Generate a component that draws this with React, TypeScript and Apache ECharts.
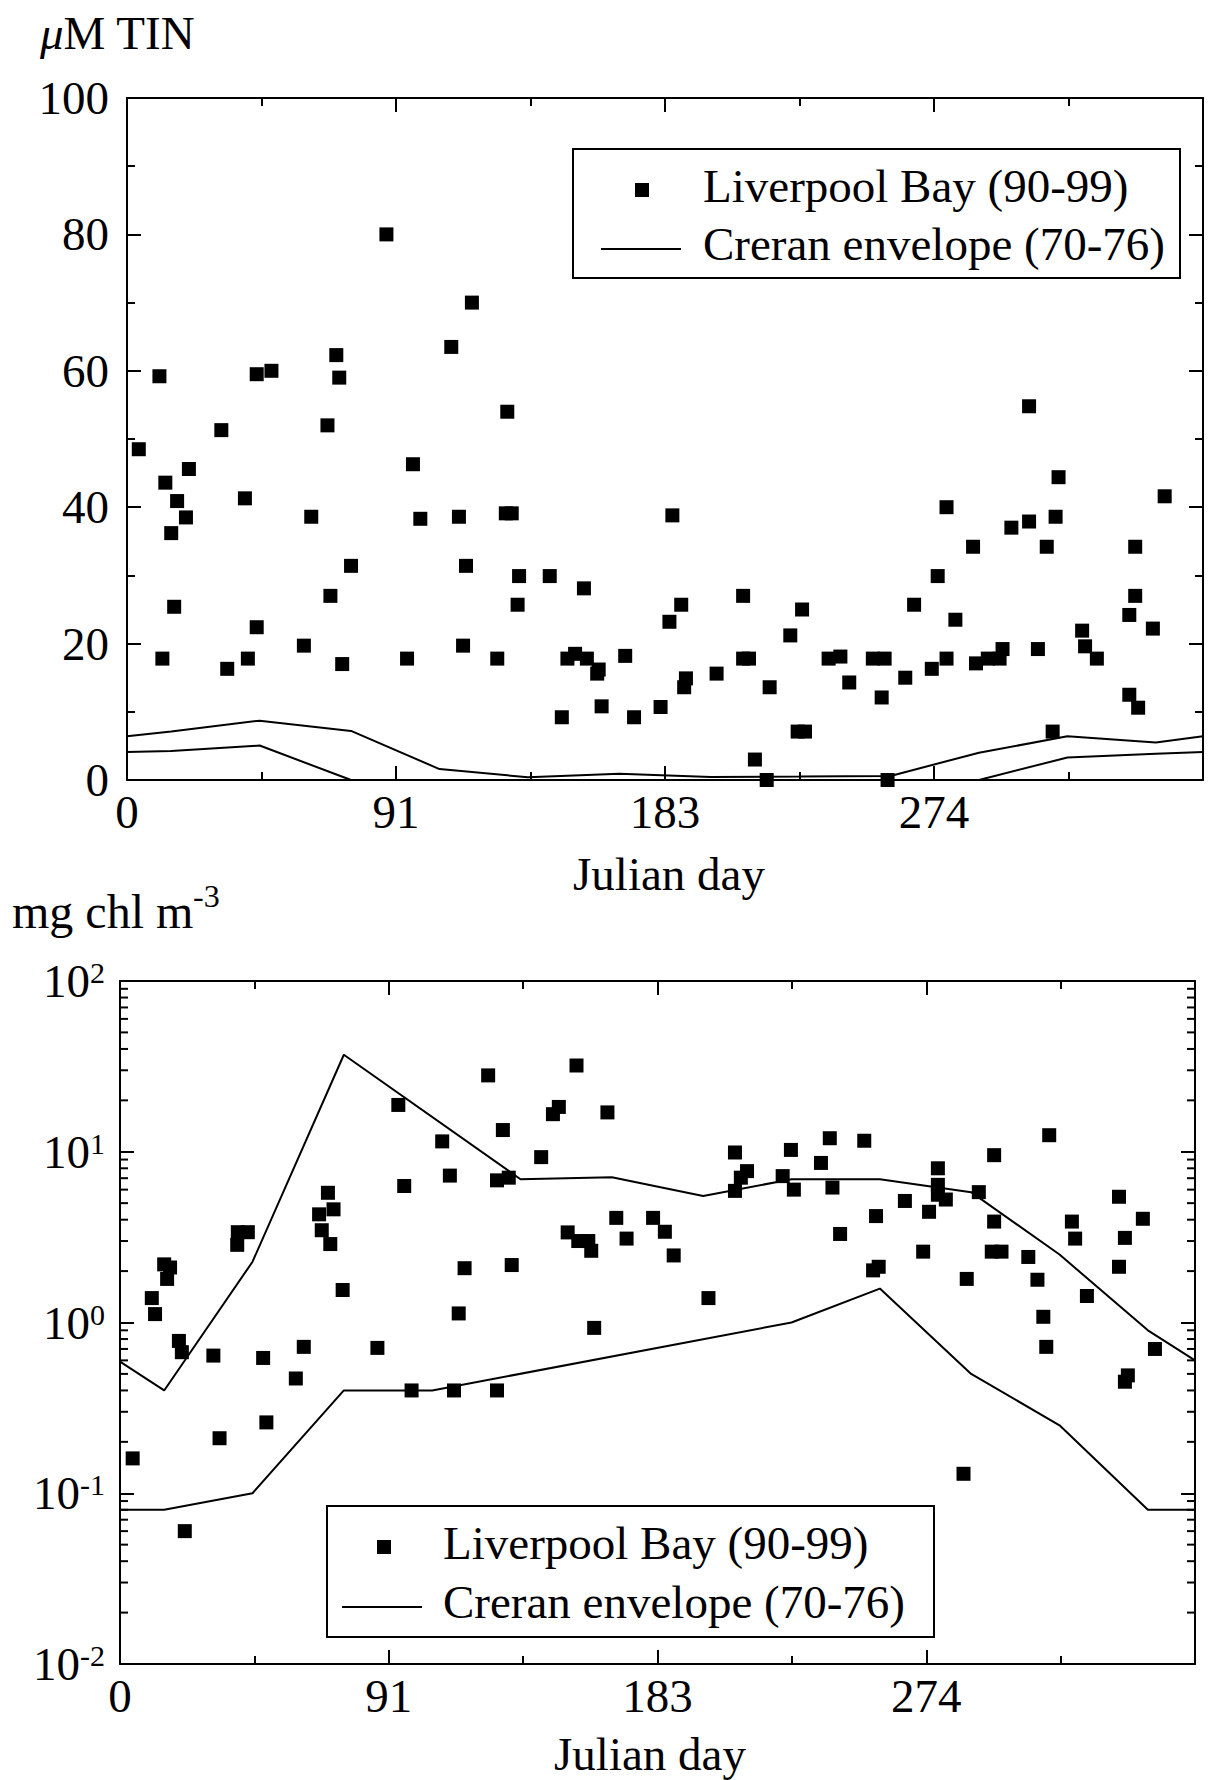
import React, { useEffect, useRef } from 'react';
import * as echarts from 'echarts';

const FONT = '"Liberation Serif", "Times New Roman", serif';
const BLACK = '#000';

// ---------- Data: top panel (µM TIN) ----------
const tinLiverpool: number[][] = [
  [4, 48.5], [11, 59.2], [12, 17.8], [13, 43.6], [15, 36.2], [16, 25.4], [17, 40.9], [20, 38.5],
  [21, 45.6], [32, 51.3], [34, 16.3], [40, 41.3], [41, 17.8], [44, 59.5], [44, 22.4], [49, 60],
  [60, 19.7], [62.5, 38.6], [68, 52], [69, 27], [71, 62.3], [72, 59], [73, 17], [76, 31.4],
  [88, 80], [95, 17.8], [97, 46.3], [99.5, 38.3], [110, 63.5], [112.6, 38.6], [114, 19.7],
  [115, 31.4], [117, 70], [125.6, 17.8], [128.5, 39.1], [129, 54], [130.5, 39.1], [132.5, 25.7],
  [133, 29.9], [143.4, 29.9], [147.5, 9.2], [149.4, 17.8], [152, 18.5], [155, 28.1], [156, 17.8],
  [159.5, 15.6], [160, 16.2], [161, 10.8], [169, 18.2], [172, 9.2], [181, 10.7], [184, 23.2],
  [185, 38.8], [188, 25.7], [189, 13.6], [189.6, 14.9], [200, 15.6], [209, 27], [209, 17.8],
  [211, 17.8], [213, 3], [217, 0], [218, 13.6], [225, 21.2], [227.5, 7.1], [229, 25], [230, 7.1],
  [238, 17.8], [242, 18.1], [245, 14.3], [253, 17.8], [256, 12.1], [257, 17.8], [258, 0],
  [264, 15], [267, 25.7], [273, 16.3], [275, 29.9], [278, 40], [278, 17.8], [281, 23.5],
  [287, 34.2], [288, 17.1], [292, 17.8], [296, 17.8], [297, 19.2], [300, 37], [306, 54.8],
  [306, 37.9], [309, 19.2], [312, 34.2], [314, 7.1], [315, 38.6], [316, 44.4], [324, 21.9],
  [325, 19.6], [329, 17.8], [340, 24.2], [340, 12.5], [342, 34.2], [342, 27], [343, 10.6],
  [348, 22.2], [352, 41.6],
];
const tinCreranUpper: number[][] = [
  [0, 6.4], [15, 7.1], [45, 8.7], [76, 7.2], [106, 1.6], [136, 0.4], [167, 0.9], [198, 0.45],
  [228, 0.5], [259, 0.6], [289, 4.0], [319, 6.4], [349, 5.5], [365, 6.4],
];
const tinCreranLower: number[][] = [
  [0, 4.1], [15, 4.25], [45, 5.05], [76, 0], [106, 0], [136, 0], [167, 0], [198, 0], [228, 0],
  [259, 0], [289, 0], [319, 3.3], [349, 3.85], [365, 4.1],
];

// ---------- Data: bottom panel (mg chl m-3) ----------
const chlLiverpool: number[][] = [
  [4.3, 0.16], [10.8, 1.39], [11.9, 1.12], [15, 2.19], [16, 1.8], [17, 2.1], [20, 0.78],
  [21, 0.67], [22, 0.06], [31.7, 0.64], [33.8, 0.21], [39.8, 2.85], [40, 3.38], [43.4, 3.38],
  [48.6, 0.62], [49.7, 0.26], [59.7, 0.47], [62.4, 0.72], [67.6, 4.3], [68.5, 3.47],
  [70.6, 5.75], [71.4, 2.88], [72.5, 4.6], [75.6, 1.55], [87.4, 0.71], [94.5, 18.8], [96.5, 6.3],
  [99, 0.4], [109.4, 11.5], [112, 7.25], [113.4, 0.4], [115, 1.13], [117, 2.08], [125, 28],
  [128, 6.8], [128, 0.4], [130, 13.4], [132, 7.05], [133, 2.17], [143, 9.3], [147, 16.6],
  [149, 18.3], [152, 3.37], [155, 32], [155.6, 3.0], [159, 3.0], [160, 2.63], [161, 0.93],
  [165.5, 17], [168.5, 4.1], [172, 3.1], [181, 4.1], [185, 3.4], [188, 2.47], [199.8, 1.39],
  [208.8, 9.9], [208.8, 5.9], [210.8, 7.05], [212.9, 7.7], [225, 7.2], [227.8, 10.25],
  [228.8, 6.0], [238, 8.6], [241, 12], [241.9, 6.17], [244.5, 3.3], [252.7, 11.6], [255.7, 2.02],
  [256.7, 4.2], [257.6, 2.12], [266.5, 5.15], [272.7, 2.6], [274.7, 4.45], [277.7, 8.0],
  [277.7, 6.4], [277.7, 5.6], [280.4, 5.25], [286.4, 0.13], [287.5, 1.8], [291.6, 5.8],
  [296, 2.6], [296.8, 9.55], [296.8, 3.9], [299.3, 2.6], [308.4, 2.42], [311.5, 1.78],
  [313.5, 1.08], [314.5, 0.72], [315.5, 12.5], [323.2, 3.9], [324.3, 3.1], [328.3, 1.43],
  [339.2, 5.45], [339.2, 2.12], [341.2, 3.13], [341.2, 0.45], [342.2, 0.49], [347.3, 4.05],
  [351.4, 0.7],
];
const chlCreranUpper: number[][] = [
  [0, 0.59], [15, 0.4], [45, 2.27], [76, 37], [136, 6.9], [167, 7.1], [198, 5.5], [228, 6.9],
  [258, 6.9], [289, 5.8], [319, 2.5], [349, 0.9], [365, 0.6],
];
const chlCreranLower: number[][] = [
  [0, 0.08], [15, 0.08], [45, 0.1], [76, 0.4], [106, 0.4], [228, 1.0], [258, 1.58], [289, 0.5],
  [319, 0.25], [349, 0.08], [365, 0.08],
];

// ---------- Axis tick settings ----------
const dayMin = 0;
const dayMax = 365;
const dayInterval = 91.25; // labels 0, 91, 183, 274
const tinTicks = { min: 0, max: 100, interval: 20 };
const chlTicks = { min: 0.01, max: 100 };
const chlMinorTicks: number[] = [];
for (let e = -2; e < 2; e++) {
  for (let m = 2; m <= 9; m++) chlMinorTicks.push(m * Math.pow(10, e));
}

const LEGEND_SCATTER = 'Liverpool Bay (90-99)';
const LEGEND_LINE = 'Creran envelope (70-76)';

const lineStyle = { color: BLACK, width: 2 };

function xAxis(gridIndex: number, position: string, showLabel: boolean) {
  return {
    type: 'value',
    gridIndex,
    position,
    min: dayMin,
    max: dayMax,
    interval: dayInterval,
    axisLine: { show: true, onZero: false, lineStyle },
    axisTick: { show: true, inside: true, length: 14, lineStyle },
    minorTick: { show: true, splitNumber: 2, length: 8, lineStyle },
    splitLine: { show: false },
    minorSplitLine: { show: false },
    axisLabel: {
      show: showLabel,
      margin: 8,
      color: BLACK,
      fontFamily: FONT,
      fontSize: 47,
      showMinLabel: true,
      showMaxLabel: true,
      formatter: (v: number) => (v >= dayMax ? '' : String(Math.round(v))),
    },
  };
}

function tinYAxis(position: string, showLabel: boolean) {
  return {
    type: 'value',
    gridIndex: 0,
    position,
    min: tinTicks.min,
    max: tinTicks.max,
    interval: tinTicks.interval,
    axisLine: { show: true, onZero: false, lineStyle },
    axisTick: { show: true, inside: true, length: 14, lineStyle },
    minorTick: { show: true, splitNumber: 2, length: 8, lineStyle },
    splitLine: { show: false },
    minorSplitLine: { show: false },
    axisLabel: {
      show: showLabel,
      margin: 18,
      color: BLACK,
      fontFamily: FONT,
      fontSize: 47,
      showMinLabel: true,
      showMaxLabel: true,
    },
  };
}

function chlYAxis(position: string, showLabel: boolean) {
  return {
    type: 'log',
    logBase: 10,
    gridIndex: 1,
    position,
    min: chlTicks.min,
    max: chlTicks.max,
    axisLine: { show: true, onZero: false, lineStyle },
    axisTick: { show: true, inside: true, length: 14, lineStyle },
    minorTick: { show: false },
    splitLine: { show: false },
    minorSplitLine: { show: false },
    axisLabel: {
      show: showLabel,
      margin: 15,
      color: BLACK,
      fontFamily: FONT,
      showMinLabel: true,
      showMaxLabel: true,
      formatter: (v: number) => `{b|10}{s|${Math.round(Math.log10(v))}}`,
      rich: {
        b: { fontSize: 47, fontFamily: FONT, color: BLACK },
        s: { fontSize: 30, fontFamily: FONT, color: BLACK, verticalAlign: 'top' },
      },
    },
  };
}

function legend(x: number, y: number, w: number, h: number, mk: number[], ln: number[], tx: number) {
  // mk: marker centre [x, y]; ln: [x1, x2, y]; tx: text left
  return [
    {
      type: 'rect',
      shape: { x, y, width: w, height: h },
      style: { fill: '#fff', stroke: BLACK, lineWidth: 2 },
      z: 100,
    },
    {
      type: 'rect',
      shape: { x: mk[0] - 7, y: mk[1] - 7, width: 14, height: 14 },
      style: { fill: BLACK },
      z: 101,
    },
    {
      type: 'text',
      x: tx,
      y: mk[1] - 4,
      style: { text: LEGEND_SCATTER, font: `47px ${FONT}`, fill: BLACK, align: 'left', verticalAlign: 'middle' },
      z: 101,
    },
    {
      type: 'line',
      shape: { x1: ln[0], y1: ln[2], x2: ln[1], y2: ln[2] },
      style: { stroke: BLACK, lineWidth: 2 },
      z: 101,
    },
    {
      type: 'text',
      x: tx,
      y: ln[2] - 5,
      style: { text: LEGEND_LINE, font: `47px ${FONT}`, fill: BLACK, align: 'left', verticalAlign: 'middle' },
      z: 101,
    },
  ];
}

const scatterStyle = { color: BLACK, opacity: 1 };

export default function App() {
  const ref = useRef<HTMLDivElement>(null);

  useEffect(() => {
    document.body.style.margin = '0';
    if (!ref.current) return;
    const chart = echarts.init(ref.current, null, { renderer: 'svg' });

    const option: any = {
      animation: false,
      backgroundColor: '#fff',
      grid: [
        { left: 127, top: 98, width: 1076, height: 682 },
        { left: 120, top: 981, width: 1075, height: 683 },
      ],
      xAxis: [
        xAxis(0, 'bottom', true),
        xAxis(0, 'top', false),
        xAxis(1, 'bottom', true),
        xAxis(1, 'top', false),
      ],
      yAxis: [tinYAxis('left', true), tinYAxis('right', false), chlYAxis('left', true), chlYAxis('right', false)],
      series: [
        {
          type: 'scatter',
          name: LEGEND_SCATTER,
          xAxisIndex: 0,
          yAxisIndex: 0,
          data: tinLiverpool,
          symbol: 'rect',
          symbolSize: 14,
          itemStyle: scatterStyle,
          clip: false,
          z: 5,
        },
        {
          type: 'line',
          name: LEGEND_LINE,
          xAxisIndex: 0,
          yAxisIndex: 0,
          data: tinCreranUpper,
          symbol: 'none',
          lineStyle,
          z: 4,
        },
        {
          type: 'line',
          name: LEGEND_LINE,
          xAxisIndex: 0,
          yAxisIndex: 0,
          data: tinCreranLower,
          symbol: 'none',
          lineStyle,
          z: 4,
        },
        {
          type: 'scatter',
          name: LEGEND_SCATTER,
          xAxisIndex: 2,
          yAxisIndex: 2,
          data: chlLiverpool,
          symbol: 'rect',
          symbolSize: 14,
          itemStyle: scatterStyle,
          clip: false,
          z: 5,
        },
        {
          type: 'line',
          name: LEGEND_LINE,
          xAxisIndex: 2,
          yAxisIndex: 2,
          data: chlCreranUpper,
          symbol: 'none',
          lineStyle,
          z: 4,
        },
        {
          type: 'line',
          name: LEGEND_LINE,
          xAxisIndex: 2,
          yAxisIndex: 2,
          data: chlCreranLower,
          symbol: 'none',
          lineStyle,
          z: 4,
        },
        {
          type: 'custom',
          xAxisIndex: 2,
          yAxisIndex: 2,
          silent: true,
          clip: false,
          z: 3,
          data: chlMinorTicks.map((v) => [dayMin, v]),
          renderItem: (_params: any, api: any) => {
            const v = api.value(1);
            const l = api.coord([dayMin, v]);
            const r = api.coord([dayMax, v]);
            return {
              type: 'group',
              children: [
                { type: 'line', shape: { x1: l[0], y1: l[1], x2: l[0] + 8, y2: l[1] }, style: { stroke: BLACK, lineWidth: 2 } },
                { type: 'line', shape: { x1: r[0] - 8, y1: r[1], x2: r[0], y2: r[1] }, style: { stroke: BLACK, lineWidth: 2 } },
              ],
            };
          },
        },
      ],
      graphic: [
        {
          type: 'text',
          x: 40,
          y: 33,
          style: {
            text: '{i|μ}M TIN',
            font: `47px ${FONT}`,
            fill: BLACK,
            align: 'left',
            verticalAlign: 'middle',
            rich: { i: { fontStyle: 'italic', fontSize: 47, fontFamily: FONT, fill: BLACK } },
          },
        },
        {
          type: 'text',
          x: 669,
          y: 874,
          style: { text: 'Julian day', font: `47px ${FONT}`, fill: BLACK, align: 'center', verticalAlign: 'middle' },
        },
        {
          type: 'text',
          x: 12,
          y: 911,
          style: { text: 'mg chl m', font: `48px ${FONT}`, fill: BLACK, align: 'left', verticalAlign: 'middle' },
        },
        {
          type: 'text',
          x: 193,
          y: 896,
          style: { text: '-3', font: `32px ${FONT}`, fill: BLACK, align: 'left', verticalAlign: 'middle' },
        },
        {
          type: 'text',
          x: 650,
          y: 1754,
          style: { text: 'Julian day', font: `47px ${FONT}`, fill: BLACK, align: 'center', verticalAlign: 'middle' },
        },
        ...legend(573, 149, 607, 129, [642, 190], [601, 681, 249], 703),
        ...legend(327, 1506, 607, 131, [384, 1547], [342, 422, 1607], 443),
      ],
    };

    chart.setOption(option);
    return () => chart.dispose();
  }, []);

  return <div ref={ref} style={{ width: 1208, height: 1780 }} />;
}
